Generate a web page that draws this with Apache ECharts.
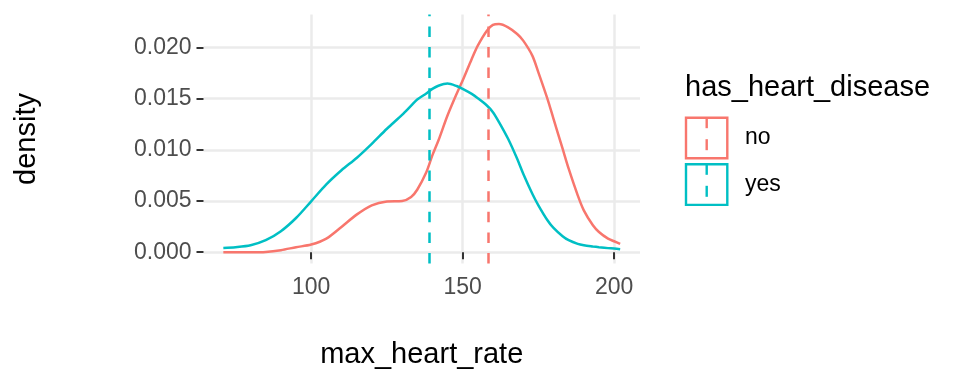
<!DOCTYPE html>
<html>
<head>
<meta charset="utf-8">
<script src="https://cdn.jsdelivr.net/npm/echarts@6/dist/echarts.min.js"></script>
<style>
html,body{margin:0;padding:0;background:#fff;}
#chart{width:960px;height:384px;}
</style>
</head>
<body>
<div id="chart"></div>
<script>
// ---- data ----
var heartRate = [71,75,80,85,90,95,100,105,110,115,120,125,130,133,135,138,140,142,145,148,150,153,155,158,160,162,165,168,170,173,175,178,180,183,185,188,190,193,195,198,200,202];
var densityNo = [0,0,0,0.00003,0.0002,0.00049,0.00075,0.00133,0.00247,0.00367,0.00458,0.00495,0.005,0.0054,0.0061,0.0078,0.00945,0.0109,0.01334,0.01545,0.01675,0.01886,0.02016,0.02162,0.02218,0.02227,0.02195,0.0213,0.02065,0.01919,0.01756,0.01497,0.01302,0.0101,0.00815,0.00555,0.00409,0.00263,0.00198,0.00133,0.00107,0.00081];
var densityYes = [0.00042,0.00049,0.00068,0.00117,0.00205,0.00334,0.00497,0.00662,0.008,0.0092,0.01058,0.01205,0.0134,0.0143,0.0149,0.0155,0.01594,0.01625,0.01646,0.01622,0.01594,0.01545,0.01503,0.01432,0.01367,0.0127,0.01107,0.00912,0.00766,0.00571,0.00458,0.00312,0.00237,0.00156,0.00117,0.00081,0.00068,0.00056,0.00049,0.0004,0.00036,0.00029];
var groups = ['no','yes'];
var groupMeans = [158.4, 139.1];
var xTicks = [100,150,200];
var yTicks = [0,0.005,0.010,0.015,0.020];
var xTitle = 'max_heart_rate';
var yTitle = 'density';
var legendTitle = 'has_heart_disease';

// ---- style ----
var colors = ['#F8766D','#00BFC4'];
var FONT = 'Liberation Sans, Arial, Helvetica, sans-serif';
var xMin = 71 - (202-71)*0.05, xMax = 202 + (202-71)*0.05;
var yMin = -0.0011, yMax = 0.0232;

function pairs(xs, ys){ return xs.map(function(x,i){return [x, ys[i]];}); }

var chart = echarts.init(document.getElementById('chart'), null, {renderer:'canvas'});

var series = [];
var dens = [densityNo, densityYes];
groups.forEach(function(g, i){
  series.push({
    type:'line', name:g, data:pairs(heartRate, dens[i]),
    showSymbol:false, smooth:0.3, z:3,
    lineStyle:{color:colors[i], width:2.5},
    silent:true, animation:false
  });
});
groups.forEach(function(g, i){
  series.push({
    type:'line', name:g+'_mean', data:[], z:4, silent:true, animation:false,
    markLine:{
      symbol:['none','none'], silent:true, animation:false,
      label:{show:false},
      lineStyle:{color:colors[i], width:2.5, type:[10.5,10.1]},
      emphasis:{disabled:true},
      data:[{xAxis:groupMeans[i]}]
    }
  });
});

var legendGraphics = [
  {type:'text', x:685, y:88, style:{text:legendTitle, font:'29px '+FONT, fill:'#000', textVerticalAlign:'middle'}, silent:true}
];
groups.forEach(function(g, i){
  var top = 117.7 + i*46.6;
  legendGraphics.push({type:'rect', shape:{x:686, y:top, width:41.3, height:40.6}, style:{fill:'none', stroke:colors[i], lineWidth:2.4}, silent:true});
  legendGraphics.push({type:'line', shape:{x1:706.7, y1:top-1.5, x2:706.7, y2:top+42}, style:{stroke:colors[i], lineWidth:2.4, lineDash:[11,11], lineDashOffset:-1}, silent:true});
  legendGraphics.push({type:'text', x:745, y:top+20, style:{text:g, font:'23px '+FONT, fill:'#000', textVerticalAlign:'middle'}, silent:true});
});

var option = {
  animation:false,
  backgroundColor:'#fff',
  grid:{left:203.5, right:320, top:14.5, bottom:120.5, outerBoundsMode:'none', containLabel:false},
  xAxis:{
    type:'value', min:xMin, max:xMax,
    axisLine:{show:false},
    axisTick:{show:true, customValues:xTicks, length:7, lineStyle:{color:'#333333', width:2}},
    axisLabel:{customValues:xTicks, color:'#4D4D4D', fontSize:23, fontFamily:FONT, margin:13},
    splitLine:{show:true, lineStyle:{color:'#EBEBEB', width:2.5}},
    minorSplitLine:{show:false}
  },
  yAxis:{
    type:'value', min:yMin, max:yMax,
    axisLine:{show:false},
    axisTick:{show:true, customValues:yTicks, length:7, lineStyle:{color:'#333333', width:2}},
    axisLabel:{customValues:yTicks, color:'#4D4D4D', fontSize:23, fontFamily:FONT, margin:12,
      formatter:function(v){return v.toFixed(3);}},
    splitLine:{show:true, lineStyle:{color:'#EBEBEB', width:2.5}}
  },
  graphic:[
    {type:'text', x:421.75, y:355, style:{text:xTitle, font:'29px '+FONT, fill:'#000', textAlign:'center', textVerticalAlign:'middle'}, silent:true},
    {type:'text', x:27, y:139, rotation:Math.PI/2, style:{text:yTitle, font:'29px '+FONT, fill:'#000', textAlign:'center', textVerticalAlign:'middle'}, silent:true}
  ].concat(legendGraphics),
  series:series
};
chart.setOption(option);
</script>
</body>
</html>
